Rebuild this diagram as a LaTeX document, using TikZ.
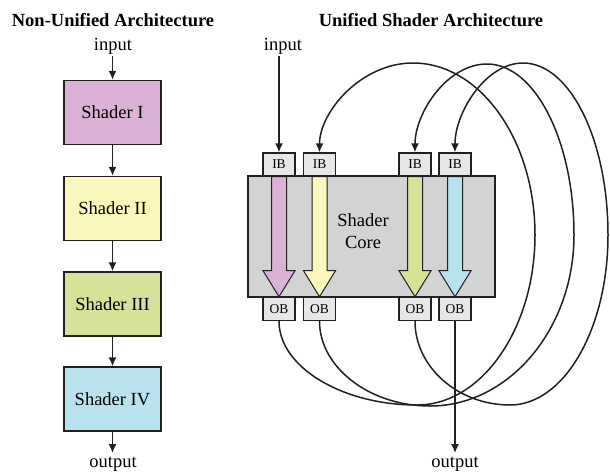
\documentclass[tikz,border=0pt]{standalone}
\usepackage{fontspec}
\setmainfont{Liberation Serif}
\usetikzlibrary{arrows.meta}
\definecolor{ink}{HTML}{231F20}
\definecolor{sI}{RGB}{219,178,214}
\definecolor{sII}{RGB}{250,248,188}
\definecolor{sIII}{RGB}{213,226,152}
\definecolor{sIV}{RGB}{184,226,238}
\definecolor{coregray}{RGB}{209,211,212}
\definecolor{bufgray}{RGB}{231,231,231}
\begin{document}
\begin{tikzpicture}[x=1pt,y=-1pt,
  shbox/.style={draw=ink,line width=1.5pt,minimum width=97pt,minimum height=64pt,inner sep=0pt,font=\fontsize{18.5}{20}\selectfont},
  buf/.style={draw=ink,line width=1.4pt,fill=bufgray,minimum width=32pt,minimum height=23pt,inner sep=0pt,font=\fontsize{13.5}{14}\selectfont},
  conn/.style={draw=ink,line width=1.5pt,-{Latex[length=9pt,width=8pt]}},
  lbl/.style={font=\fontsize{18.5}{20}\selectfont,inner sep=0pt,anchor=base},
  ttl/.style={font=\bfseries\fontsize{18.5}{20}\selectfont,inner sep=0pt,anchor=base},
  fatarr/.style={draw=ink,line width=1pt,line join=miter}]
\useasboundingbox (0,0) rectangle (610,472);

% ---------- Non-unified ----------
\node[ttl] (t1) at (113,26) {Non-Unified Architecture};
\node[lbl] (in1) at (113,50) {input};
\node[shbox,fill=sI]   (s1) at (112.5,112.5) {Shader I};
\node[shbox,fill=sII]  (s2) at (112.5,208.5) {Shader II};
\node[shbox,fill=sIII] (s3) at (112.5,304) {Shader III};
\node[shbox,fill=sIV]  (s4) at (112.5,399) {Shader IV};
\node[lbl] (out1) at (113,467) {output};
\coordinate (in1a) at (112.5,56);
\coordinate (out1a) at (112.5,453);
\draw[conn] (in1a) -- (s1.north);
\draw[conn] (s1) -- (s2);
\draw[conn] (s2) -- (s3);
\draw[conn] (s3) -- (s4);
\draw[conn] (s4.south) -- (out1a);

% ---------- Unified ----------
\node[ttl] (t2) at (431,26) {Unified Shader Architecture};
\node[lbl] (in2) at (283,50) {input};
\node[draw=ink,line width=1.5pt,fill=coregray,minimum width=247pt,minimum height=121pt,inner sep=0pt] (core) at (371.5,236.5) {};
\node[font=\fontsize{18.5}{22}\selectfont,align=center,inner sep=0pt] (coretext) at (363,231) {Shader\\Core};

\node[buf] (ib1) at (279,164.5) {IB};
\node[buf] (ib2) at (319.5,164.5) {IB};
\node[buf] (ib3) at (415,164.5) {IB};
\node[buf] (ib4) at (455,164.5) {IB};
\node[buf] (ob1) at (279,309) {OB};
\node[buf] (ob2) at (319.5,309) {OB};
\node[buf] (ob3) at (415,309) {OB};
\node[buf] (ob4) at (455,309) {OB};

\foreach \n/\c in {1/sI,2/sII,3/sIII,4/sIV}{
  \draw[fatarr,fill=\c] (ib\n.south) ++(-7.5,0) -- ++(0,94) -- ++(-8.5,0) -- ++(16,26) -- ++(16,-26) -- ++(-8.5,0) -- ++(0,-94) -- cycle;
}

\node[lbl] (out2) at (455,467) {output};
\coordinate (in2a) at (279,56);
\coordinate (out2a) at (455,453);
\draw[conn] (in2a) -- (ib1.north);
\draw[conn] (ob4.south) -- (out2a);

% loops
\draw[conn] (ob1.south) .. controls (279,367) and (342,405) .. (417,405)
  .. controls (482,405) and (535,328) .. (535,235)
  .. controls (535,140) and (480,63) .. (413,63)
  .. controls (361,63) and (319.5,112) .. (ib2.north);
\draw[conn] (ob2.south) .. controls (319.5,367) and (369,406) .. (430,406)
  .. controls (509,406) and (574,329) .. (574,235)
  .. controls (574,141) and (535,64) .. (487,64)
  .. controls (447,64) and (415,113) .. (ib3.north);
\draw[conn] (ob3.south) .. controls (415,367) and (458,405) .. (510,405)
  .. controls (564,405) and (608,329) .. (608,235)
  .. controls (608,140) and (570,63) .. (523,63)
  .. controls (486,63) and (455,112) .. (ib4.north);
\end{tikzpicture}
\end{document}
